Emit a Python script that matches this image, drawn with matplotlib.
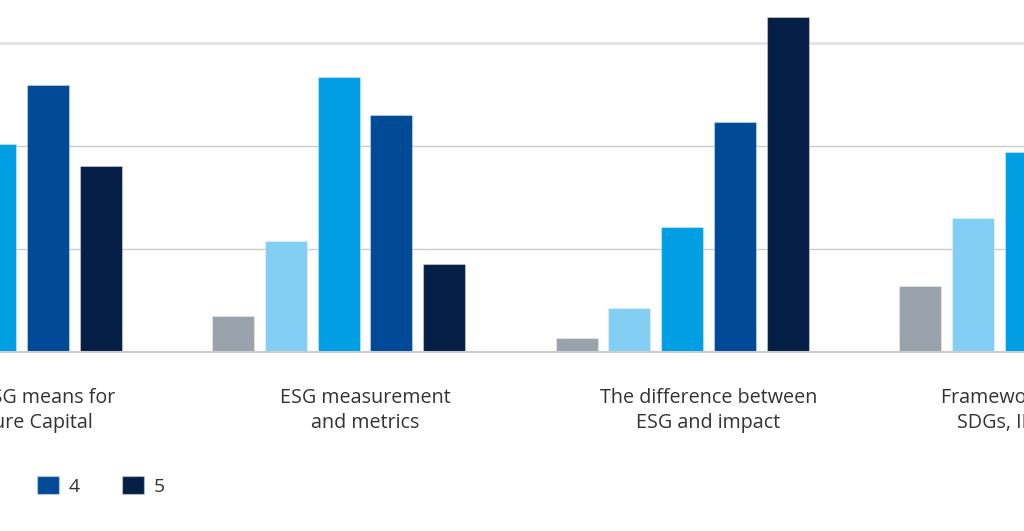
import matplotlib
matplotlib.use("Agg")
import matplotlib.pyplot as plt
from matplotlib.patches import Patch
import numpy as np

categories = ["What ESG means for\nVenture Capital",
              "ESG measurement\nand metrics",
              "The difference between\nESG and impact",
              "Frameworks such as the\nSDGs, IRIS+ and GIIN"]
series_names = ["1", "2", "3", "4", "5"]
values = {
    "1": [4.0, 3.5, 1.4, 6.4],
    "2": [12.0, 10.8, 4.3, 13.0],
    "3": [20.2, 26.7, 12.1, 19.4],
    "4": [25.9, 23.0, 22.3, 24.0],
    "5": [18.1, 8.5, 32.5, 20.0],
}
colors = ["#9aa3ab", "#83cff4", "#009fe3", "#004a98", "#041e45"]

plt.rcParams['font.family'] = ['Open Sans', 'DejaVu Sans']

W, H = 1024, 531
fig = plt.figure(figsize=(W/100, H/100), dpi=100)
base_px = 352
ax = fig.add_axes([0, (H - base_px)/H, 1, base_px/H])

pitch = 52.7/343.5
width = 42/343.5
x = np.arange(len(categories))
for i, name in enumerate(series_names):
    ax.bar(x + (i - 2.5)*pitch, values[name], width=width, color=colors[i],
           edgecolor=(1, 1, 1, 0.35), linewidth=0.8, zorder=3)

ax.set_xlim(1 - 365/343.5, 1 + (W - 365)/343.5)
ax.set_ylim(0, base_px/10.3)
for y, c, lw in [(10, "#cccccc", 1.0), (20, "#cccccc", 1.0), (30, "#e3e3e3", 2.0)]:
    ax.axhline(y, color=c, linewidth=lw, zorder=1)
ax.axhline(0, color="#cccccc", linewidth=1.5, zorder=4, clip_on=False)
ax.axis("off")

for xi, lab in zip(x, categories):
    ax.text(xi, -3.5, lab, ha="center", va="top", fontsize=14.2, color="#333333",
            linespacing=1.3)

handles = [Patch(facecolor=colors[i], edgecolor=(1, 1, 1, 0.35), label=series_names[i])
           for i in range(5)]
fig.legend(handles=handles, loc="upper left", ncol=5, frameon=False,
           bbox_to_anchor=(-217/W, 1 - 476/H), borderpad=0, borderaxespad=0,
           fontsize=14, handlelength=1.13, handleheight=1.03, handletextpad=0.5,
           columnspacing=2.155, labelcolor="#333333")

fig.savefig("out.png", dpi=100, facecolor="white")
